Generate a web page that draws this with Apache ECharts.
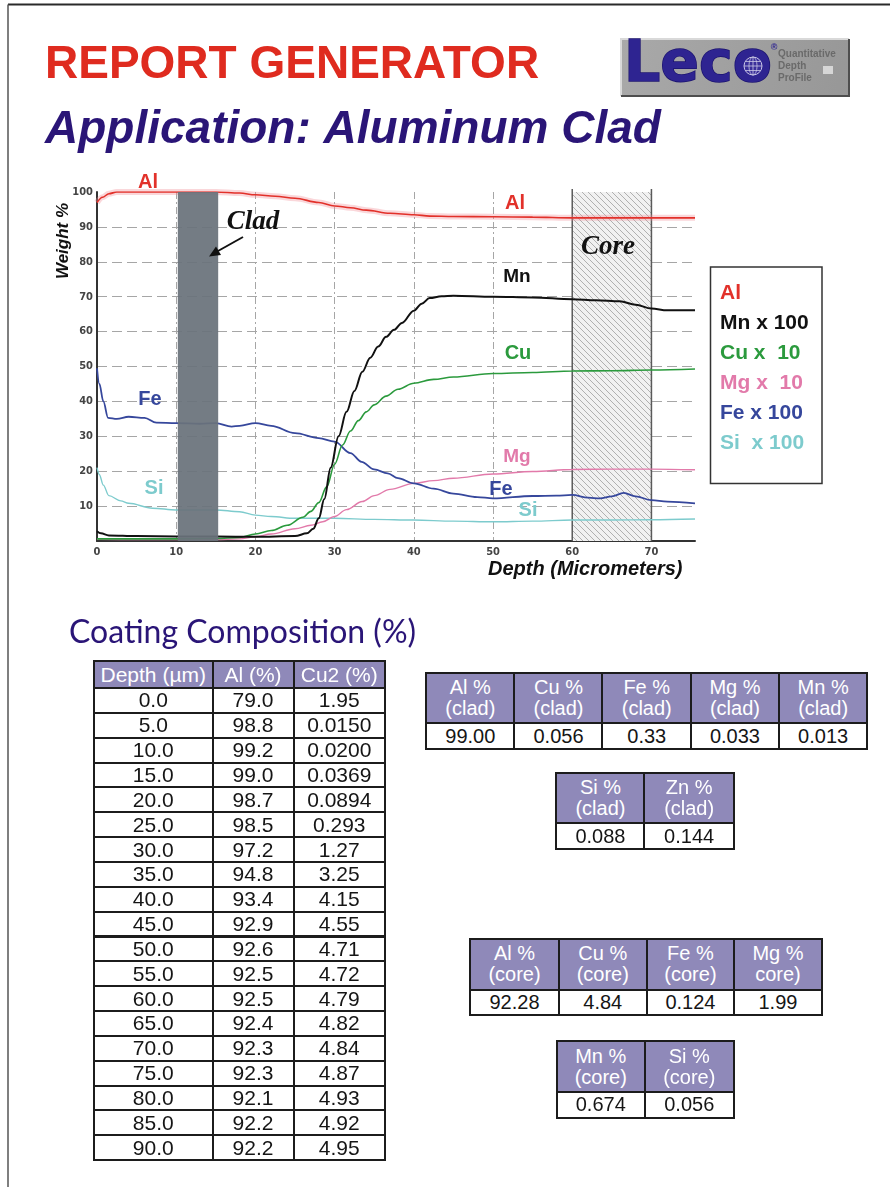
<!DOCTYPE html>
<html>
<head>
<meta charset="utf-8">
<script src="https://cdn.jsdelivr.net/npm/echarts@6.0.0/dist/echarts.min.js"></script>
<style>
html,body{margin:0;padding:0;background:#fff;}
body{width:890px;height:1187px;position:relative;overflow:hidden;}
#chart{position:absolute;left:0;top:0;width:890px;height:1187px;}
.tbl{position:absolute;z-index:2;font-family:"Liberation Sans",Arial,Helvetica,sans-serif;}
.cell{position:absolute;box-sizing:border-box;display:flex;align-items:center;justify-content:center;text-align:center;white-space:pre;}
.hd{background:#8f89b9;color:#fff;}
.bd{background:#fff;color:#151515;}
</style>
</head>
<body>
<div id="chart"></div>
<script>
// ---------------- chart data ----------------
const alDepth = [0,0.7,1.5,2.5,5,10,15,18,20,22.5,25,28,30,32,34,37,40,42,45,50,55,60,65,70,75.5];
const alValue = [97,98.5,99.5,100,100,100,100,99.7,99.2,98.8,98.2,97,96,95.5,94.8,93.9,93.5,93.1,93,92.9,92.8,92.6,92.6,92.6,92.6];

const mnDepth = [0,0.5,1.5,5,10,15,20,25,26.5,27.3,28,28.7,29.5,30.5,31.5,32.5,33.5,34.5,35.5,36.5,37.5,38.5,40,41,42,43.5,45,50,55,60,63,66,68,70,72,75.5];
const mnValue = [2.8,2.2,1.6,1.4,1.3,1.3,1.2,1.4,2.2,3.5,6.5,12,21,30,37,43,48.5,52.5,55.7,58.5,60.5,62.5,66,68,69.6,70.1,70.3,70,69.8,69.3,69,68.7,67.7,66.6,66.1,66.1];

const cuDepth = [0,5,10,15,18,20,22,24,26,27,28,29,30,31,32,33,34,35,36.5,38,40,42.5,45,50,55,60,65,70,75.5];
const cuValue = [0.6,0.6,0.6,0.7,1,2,3,4.5,6.8,8.5,11,15.5,22,27.5,31.5,34.5,37,39,41.5,43.5,45.2,46.3,47,48,48.3,48.7,48.8,49,49.3];

const mgDepth = [0,5,10,15,18,20,22,25,27,28.5,30,31.5,33.5,35,37,40,42.5,45,50,55,60,65,70,75.5];
const mgValue = [0.5,0.4,0.4,0.4,0.6,1.2,2,3.5,4.5,5.5,7,9,11.3,13,14.8,16.5,17.3,18,19.2,19.9,20.5,20.6,20.6,20.4];

const feDepth = [0,0.3,0.8,1.4,2.5,4,6,7.5,10,13,15,17,18,20,22,25,28,30,32,33.4,35,36.7,38,40,42.5,45,48,50,55,58,60,62,63.5,65,66.5,68,70,72,75.5];
const feValue = [49.5,45,40,35.3,35,35.6,35.3,33.9,33.8,33.6,33.8,32.8,33,33.8,33,30.9,29.5,28.5,25.2,22.7,20.5,19.4,18,16.5,15,13.6,12.6,12.2,12.9,13,13.2,12.4,12.2,12.8,13.8,12.8,11.7,11.3,10.8];

const siDepth = [0,0.3,0.8,1.5,3,4,7,10,15,18,20,22,25,30,35,40,45,50,55,60,65,70,75.5];
const siValue = [21,19,16,13,11.5,10.8,9.4,8.9,8.9,8.4,7.4,7,6.5,6.5,6.2,6,5.7,5.5,5.7,6,6,6.1,6.3];

const cladZone = [10.2, 15.3];
const coreZone = [60, 70];

const xTicks = [0,10,20,30,40,50,60,70];
const legendItems = ['Al','Mn x 100','Cu x  10','Mg x  10','Fe x 100','Si  x 100'];

// ---------------- table data ----------------
const tableHead = ['Depth (\u00b5m)','Al (%)','Cu2 (%)'];
const tableDepth = ['0.0','5.0','10.0','15.0','20.0','25.0','30.0','35.0','40.0','45.0','50.0','55.0','60.0','65.0','70.0','75.0','80.0','85.0','90.0'];
const tableAl = ['79.0','98.8','99.2','99.0','98.7','98.5','97.2','94.8','93.4','92.9','92.6','92.5','92.5','92.4','92.3','92.3','92.1','92.2','92.2'];
const tableCu2 = ['1.95','0.0150','0.0200','0.0369','0.0894','0.293','1.27','3.25','4.15','4.55','4.71','4.72','4.79','4.82','4.84','4.87','4.93','4.92','4.95'];

const cladHead1 = ['Al %\n(clad)','Cu %\n(clad)','Fe %\n(clad)','Mg %\n(clad)','Mn %\n(clad)'];
const cladVal1 = ['99.00','0.056','0.33','0.033','0.013'];
const cladHead2 = ['Si %\n(clad)','Zn %\n(clad)'];
const cladVal2 = ['0.088','0.144'];
const coreHead1 = ['Al %\n(core)','Cu %\n(core)','Fe %\n(core)','Mg %\ncore)'];
const coreVal1 = ['92.28','4.84','0.124','1.99'];
const coreHead2 = ['Mn %\n(core)','Si %\n(core)'];
const coreVal2 = ['0.674','0.056'];

// ---------------- tables (HTML) ----------------
function buildTable(left, top, colW, headH, rowH, bw, head, rows, hFont, bFont, lineH){
  const t = document.createElement('div');
  t.className = 'tbl';
  t.style.left = left + 'px'; t.style.top = top + 'px';
  const xs = [0]; colW.forEach(w => xs.push(xs[xs.length-1] + w));
  function cell(x, y, w, h, text, cls, font){
    const d = document.createElement('div');
    d.className = 'cell ' + cls;
    d.style.left = x + 'px'; d.style.top = y + 'px';
    d.style.width = (w + bw) + 'px'; d.style.height = (h + bw) + 'px';
    d.style.border = bw + 'px solid #1c1c1c';
    d.style.fontSize = font + 'px';
    d.style.lineHeight = lineH + 'px';
    d.textContent = text;
    t.appendChild(d);
  }
  head.forEach((h, i) => cell(xs[i], 0, colW[i], headH, h, 'hd', hFont));
  rows.forEach((r, ri) => r.forEach((v, i) => cell(xs[i], headH + ri*rowH, colW[i], rowH, v, 'bd', bFont)));
  document.body.appendChild(t);
}
buildTable(93, 660, [118.5, 81, 91.5], 27, 24.85, 2, tableHead,
  tableDepth.map((d, i) => [d, tableAl[i], tableCu2[i]]), 21, 21, 22);
buildTable(425, 671.5, [88.2, 88.2, 88.2, 88.2, 88.2], 50.5, 25.5, 2.5, cladHead1, [cladVal1], 20, 20, 21);
buildTable(555, 771.5, [88.4, 89], 50.5, 25.5, 2.5, cladHead2, [cladVal2], 20, 20, 21);
buildTable(469, 937.5, [88.5, 88, 87.4, 87.6], 51, 24.7, 2.5, coreHead1, [coreVal1], 20, 20, 21);
buildTable(555.5, 1039.5, [88, 89], 51.5, 25, 2.5, coreHead2, [coreVal2], 20, 20, 21);

// ---------------- chart ----------------
const pc = document.createElement('canvas');
pc.width = 6; pc.height = 6;
const g = pc.getContext('2d');
g.fillStyle = '#f1f1f1'; g.fillRect(0, 0, 6, 6);
g.strokeStyle = '#a8a8a8'; g.lineWidth = 0.9;
g.beginPath(); g.moveTo(-1, -1); g.lineTo(7, 7); g.stroke();
g.beginPath(); g.moveTo(-1, 5); g.lineTo(1, 7); g.stroke();
g.beginPath(); g.moveTo(5, -1); g.lineTo(7, 1); g.stroke();
const hatch = { image: pc, repeat: 'repeat' };

function pairs(xs, ys){ return xs.map((x, i) => [x, ys[i]]); }
function lineSeries(name, xs, ys, color, width, z){
  return { name, type: 'line', data: pairs(xs, ys), symbol: 'none', showSymbol: false,
    smooth: 0.35, smoothMonotone: 'x', lineStyle: { color, width }, z, silent: true };
}

const SANS = '"Liberation Sans", Arial, Helvetica, sans-serif';
const SERIF = '"Liberation Serif", "Times New Roman", serif';
function txt(text, x, y, color, font, align, vAlign, extra){
  align = align || 'left'; vAlign = vAlign || 'middle';
  return Object.assign({ type: 'text', x, y, z: 100, silent: true,
    style: { text, fill: color, font, align, verticalAlign: vAlign, textAlign: align, textVerticalAlign: vAlign } }, extra || {});
}

const legendColors = ['#e2312a', '#111111', '#2b9a3d', '#e27aaa', '#36479c', '#7dcbcd'];
const LOGO_FONT = 'bold 57px "DejaVu Sans", sans-serif';
const graphics = [
  // page frame
  { type: 'line', shape: { x1: 8, y1: 4.5, x2: 890, y2: 4.5 }, style: { stroke: '#2a2a2a', lineWidth: 2 }, silent: true },
  { type: 'line', shape: { x1: 8, y1: 4.5, x2: 8, y2: 1187 }, style: { stroke: '#555', lineWidth: 1.5 }, silent: true },
  // titles
  txt('REPORT GENERATOR', 45, 65, '#df2b1f', 'bold 46px ' + SANS),
  txt('Application: Aluminum Clad', 45, 130, '#2a1577', 'italic bold 46px ' + SANS),
  txt('Coating Composition (%)', 69, 633, '#2a1577', '32px Lato, "Noto Sans", sans-serif'),
  // logo
  { type: 'rect', shape: { x: 621, y: 39, width: 228, height: 57 }, silent: true,
    style: { fill: { type: 'linear', x: 0, y: 0, x2: 1, y2: 1, colorStops: [{ offset: 0, color: '#a9a9a9' }, { offset: 1, color: '#979797' }] } } },
  { type: 'polyline', shape: { points: [[621, 96], [621, 39], [849, 39]] }, style: { stroke: '#d9d9d9', lineWidth: 2, fill: null }, silent: true },
  { type: 'polyline', shape: { points: [[849, 39], [849, 96], [621, 96]] }, style: { stroke: '#4e4e4e', lineWidth: 2, fill: null }, silent: true },
  { type: 'text', x: 624, y: 66, z: 100, silent: true,
    style: { text: 'Leco', fill: '#2e2491', stroke: '#1c1470', lineWidth: 1.5, font: LOGO_FONT, align: 'left', verticalAlign: 'middle', textAlign: 'left', textVerticalAlign: 'middle' } },
  { type: 'circle', shape: { cx: 753, cy: 66, r: 9 }, style: { fill: '#3a2f9a', stroke: '#c9c6e6', lineWidth: 1 }, z: 101, silent: true },
  { type: 'ellipse', shape: { cx: 753, cy: 66, rx: 4, ry: 9 }, style: { fill: null, stroke: '#c9c6e6', lineWidth: 0.8 }, z: 101, silent: true },
  { type: 'line', shape: { x1: 744, y1: 66, x2: 762, y2: 66 }, style: { stroke: '#c9c6e6', lineWidth: 0.8 }, z: 101, silent: true },
  { type: 'line', shape: { x1: 745.5, y1: 61.5, x2: 760.5, y2: 61.5 }, style: { stroke: '#c9c6e6', lineWidth: 0.8 }, z: 101, silent: true },
  { type: 'line', shape: { x1: 745.5, y1: 70.5, x2: 760.5, y2: 70.5 }, style: { stroke: '#c9c6e6', lineWidth: 0.8 }, z: 101, silent: true },
  { type: 'line', shape: { x1: 753, y1: 57, x2: 753, y2: 75 }, style: { stroke: '#c9c6e6', lineWidth: 0.8 }, z: 101, silent: true },
  txt('\u00ae', 774, 48, '#2e2491', 'bold 9px ' + SANS, 'center'),
  txt('Quantitative', 778, 54, '#6a6a6a', 'bold 10px ' + SANS),
  txt('Depth', 778, 66, '#6a6a6a', 'bold 10px ' + SANS),
  txt('ProFile', 778, 78, '#6a6a6a', 'bold 10px ' + SANS),
  { type: 'rect', shape: { x: 823, y: 66, width: 10, height: 8 }, style: { fill: '#d6d6d6' }, z: 101, silent: true },
  // chart annotations
  txt('Weight %', 63, 241, '#111', 'italic bold 17px ' + SANS, 'center', 'middle', { rotation: Math.PI / 2 }),
  txt('Depth (Micrometers)', 488, 569, '#111', 'italic bold 20px ' + SANS, 'left'),
  txt('Al', 148, 182, '#e2312a', 'bold 20px ' + SANS, 'center'),
  txt('Al', 515, 203, '#e2312a', 'bold 20px ' + SANS, 'center'),
  txt('Mn', 517, 277, '#111', 'bold 19px ' + SANS, 'center'),
  txt('Cu', 518, 353, '#2b9a3d', 'bold 20px ' + SANS, 'center'),
  txt('Mg', 517, 457, '#e27aaa', 'bold 19px ' + SANS, 'center'),
  txt('Fe', 150, 399, '#36479c', 'bold 20px ' + SANS, 'center'),
  txt('Fe', 501, 489, '#36479c', 'bold 20px ' + SANS, 'center'),
  txt('Si', 154, 488, '#7dcbcd', 'bold 20px ' + SANS, 'center'),
  txt('Si', 528, 510, '#7dcbcd', 'bold 20px ' + SANS, 'center'),
  txt('Clad', 253, 222, '#111', 'italic bold 27px ' + SERIF, 'center'),
  txt('Core', 608, 247, '#111', 'italic bold 27px ' + SERIF, 'center'),
  { type: 'line', shape: { x1: 243, y1: 237, x2: 218, y2: 251 }, style: { stroke: '#111', lineWidth: 2 }, z: 100, silent: true },
  { type: 'polygon', shape: { points: [[209, 256.5], [221, 255], [216, 246.5]] }, style: { fill: '#111' }, z: 100, silent: true },
  // legend box
  { type: 'rect', shape: { x: 710.5, y: 267, width: 111.5, height: 216.5 }, style: { fill: '#fff', stroke: '#333', lineWidth: 1.5 }, z: 99, silent: true }
];
legendItems.forEach((s, i) => graphics.push(txt(s, 720, 293 + i * 30, legendColors[i], 'bold 21px ' + SANS)));

const AXIS_FONT = '"DejaVu Sans Condensed", "DejaVu Sans", sans-serif';
const option = {
  animation: false,
  backgroundColor: '#fff',
  grid: { left: 97, right: 195, top: 192, bottom: 646, containLabel: false },
  xAxis: {
    type: 'value', min: 0, max: 75.5, interval: 10,
    axisLine: { show: true, onZero: false, lineStyle: { color: '#333', width: 2 } },
    axisTick: { show: false },
    axisLabel: { color: '#444', fontWeight: 'bold', fontSize: 11, fontFamily: AXIS_FONT, margin: 6,
      formatter: v => (xTicks.indexOf(v) >= 0 ? String(v) : '') },
    splitLine: { show: true, showMinLine: false, showMaxLine: false, lineStyle: { color: '#a6a6a6', width: 1, type: [7, 3, 2, 3] } }
  },
  yAxis: {
    type: 'value', min: 0, max: 100, interval: 10,
    axisLine: { show: true, lineStyle: { color: '#333', width: 2 } },
    axisTick: { show: false },
    axisLabel: { showMinLabel: false, color: '#444', fontWeight: 'bold', fontSize: 11, fontFamily: AXIS_FONT, margin: 4 },
    splitLine: { show: true, showMinLine: false, showMaxLine: false, lineStyle: { color: '#a6a6a6', width: 1, type: [10, 5] } }
  },
  series: [
    { type: 'custom', z: 1, silent: true, data: [coreZone],
      renderItem: (params, api) => {
        const a = api.coord([api.value(0), 100]);
        const b = api.coord([api.value(1), 0]);
        return { type: 'group', children: [
          { type: 'rect', shape: { x: a[0], y: a[1], width: b[0] - a[0], height: b[1] - a[1] }, style: { fill: hatch } },
          { type: 'line', shape: { x1: a[0], y1: a[1] - 3, x2: a[0], y2: b[1] }, style: { stroke: '#5a5a5a', lineWidth: 1.5 } },
          { type: 'line', shape: { x1: b[0], y1: a[1] - 3, x2: b[0], y2: b[1] }, style: { stroke: '#5a5a5a', lineWidth: 1.5 } }
        ] };
      } },
    lineSeries('Al glow', alDepth, alValue, 'rgba(240,140,150,0.35)', 6, 2),
    lineSeries('Al', alDepth, alValue, '#e2312a', 1.6, 3),
    lineSeries('Si', siDepth, siValue, '#7dcbcd', 1.4, 3),
    lineSeries('Mg', mgDepth, mgValue, '#e27aaa', 1.4, 3),
    lineSeries('Fe', feDepth, feValue, '#36479c', 1.8, 3),
    lineSeries('Cu', cuDepth, cuValue, '#2b9a3d', 1.6, 3),
    lineSeries('Mn', mnDepth, mnValue, '#111111', 2, 3),
    { type: 'custom', z: 10, silent: true, data: [cladZone],
      renderItem: (params, api) => {
        const a = api.coord([api.value(0), 100]);
        const b = api.coord([api.value(1), 0]);
        return { type: 'rect', shape: { x: a[0], y: a[1], width: b[0] - a[0], height: b[1] - a[1] }, style: { fill: '#69727b', opacity: 0.93 } };
      } }
  ],
  graphic: { elements: graphics }
};

const chart = echarts.init(document.getElementById('chart'), null, { renderer: 'canvas' });
chart.setOption(option);
</script>
</body>
</html>
